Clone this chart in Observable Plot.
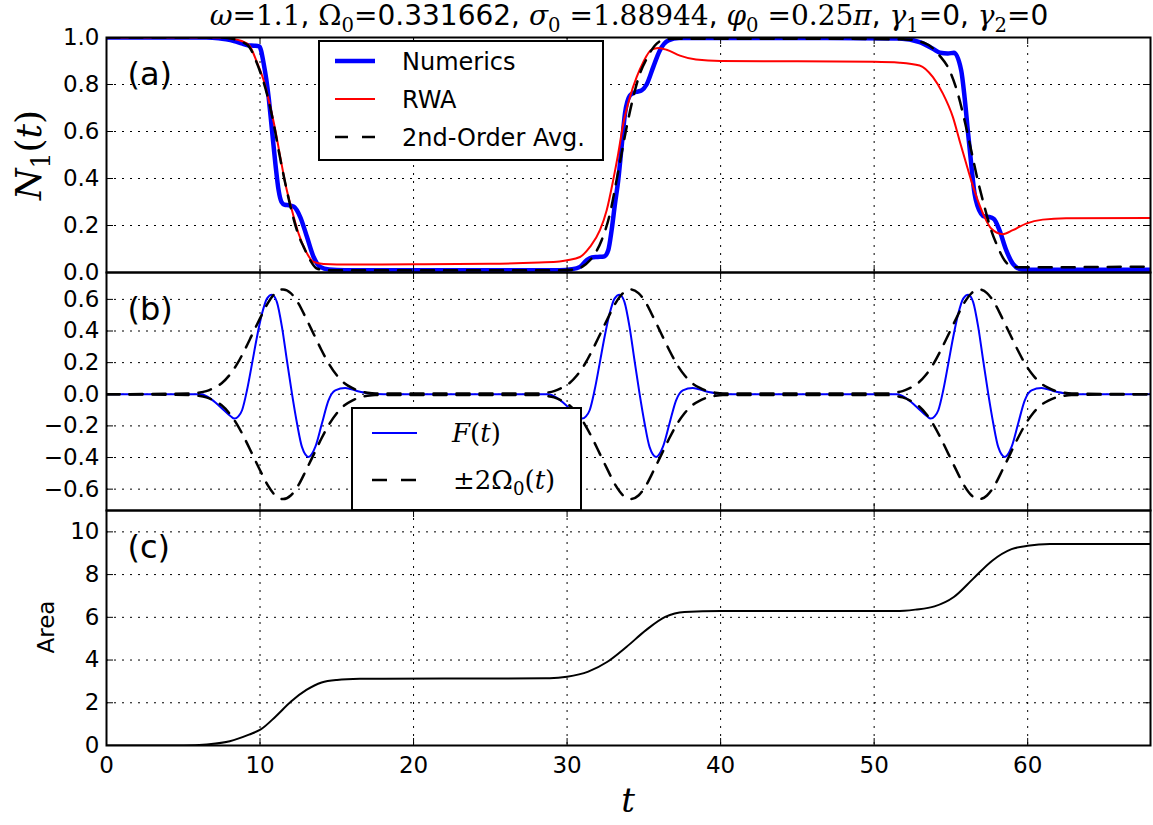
<!DOCTYPE html>
<html><head><meta charset="utf-8">
<script src="https://cdn.jsdelivr.net/npm/d3@7"></script>
<script src="https://cdn.jsdelivr.net/npm/@observablehq/plot@0.6"></script>
<style>
body{margin:0;background:#fff;}
#wrap{position:relative;width:1153px;height:825px;overflow:hidden;background:#fff;}
</style></head>
<body><div id="wrap"></div>
<script>
// ---------- data ----------
const xTicks = [0, 10, 20, 30, 40, 50, 60];
const xGrid = [10, 20, 30, 40, 50, 60];
const aTicks = [0, 0.2, 0.4, 0.6, 0.8, 1.0];
const aGrid = [0.2, 0.4, 0.6, 0.8];
const bTicks = [-0.6, -0.4, -0.2, 0, 0.2, 0.4, 0.6];
const cTicks = [0, 2, 4, 6, 8, 10];
const cGrid = [2, 4, 6, 8, 10];
const panelLabels = ["(a)", "(b)", "(c)"];
const legendA = ["Numerics", "RWA", "2nd-Order Avg."];

// panel (a): Numerics
const tN = [0, 6.5, 7.3, 7.8, 8.3, 8.8, 9.2, 9.6, 9.95, 10.24, 10.56, 10.78, 11.0, 11.21, 11.4, 11.6, 11.9, 12.2,
  12.62, 13.06, 13.49, 13.92, 14.5, 15.5, 22, 29.5, 30.3, 30.84, 31.27, 31.6, 32.0, 32.4, 32.68, 32.9, 33.12, 33.33,
  33.55, 33.77, 34.09, 34.35, 34.6, 34.85, 35.18, 35.61, 36.04, 36.59, 37.3, 38.5, 45, 51.66, 52.96, 53.83, 54.3, 54.8,
  55.2, 55.67, 55.89, 56.1, 56.32, 56.54, 56.97, 57.2, 57.5, 57.8, 58.16, 58.6, 59.03, 59.6, 60.3, 64, 68];
const N = [1.0, 1.0, 0.997, 0.992, 0.985, 0.975, 0.967, 0.965, 0.962, 0.888, 0.746, 0.605, 0.463, 0.35, 0.3, 0.288, 0.286, 0.28,
  0.236, 0.151, 0.066, 0.024, 0.013, 0.01, 0.01, 0.01, 0.014, 0.024, 0.052, 0.064, 0.066, 0.068, 0.095, 0.18, 0.293, 0.392,
  0.534, 0.676, 0.753, 0.765, 0.77, 0.775, 0.8, 0.874, 0.945, 0.987, 0.998, 0.998, 0.998, 0.996, 0.98, 0.952, 0.935, 0.932,
  0.935, 0.86, 0.746, 0.605, 0.463, 0.336, 0.25, 0.238, 0.236, 0.228, 0.18, 0.095, 0.038, 0.013, 0.012, 0.012, 0.012];

// panel (a): RWA
const tR = [0, 7.5, 8.28, 8.8, 9.3, 9.8, 10.24, 10.67, 11.0, 11.32, 11.65, 12.08, 12.51, 12.95, 13.49, 14.14, 15, 20, 25, 28.2,
  29.5, 30.0, 30.84, 31.49, 32.14, 32.58, 33.0, 33.33, 33.66, 34.09, 34.53, 34.96, 35.5, 35.94, 36.48, 37.35, 38.4, 40, 45, 50,
  51.66, 52.96, 53.83, 54.48, 55.13, 55.56, 56.0, 56.32, 56.75, 57.19, 57.62, 58.38, 59.03, 59.9, 60.98, 62.5, 68];
const R = [1.0, 1.0, 0.994, 0.985, 0.966, 0.895, 0.817, 0.704, 0.605, 0.491, 0.378, 0.265, 0.166, 0.095, 0.045, 0.036, 0.034, 0.035, 0.037, 0.043,
  0.047, 0.052, 0.066, 0.109, 0.18, 0.265, 0.392, 0.506, 0.633, 0.746, 0.831, 0.895, 0.948, 0.955, 0.948, 0.923, 0.906, 0.9, 0.899, 0.897,
  0.893, 0.881, 0.831, 0.761, 0.661, 0.562, 0.463, 0.392, 0.307, 0.236, 0.187, 0.163, 0.18, 0.208, 0.225, 0.231, 0.232];

// panel (a): 2nd-order average
const tD = [0, 7.5, 8.3, 8.8, 9.3, 9.8, 10.45, 10.89, 11.21, 11.65, 12.1, 12.5, 12.84, 13.27, 13.7, 14.3, 20, 29.5, 30.5, 31.0,
  31.49, 32.25, 32.79, 33.22, 33.55, 33.88, 34.31, 34.74, 35.18, 35.72, 36.26, 37, 45, 52, 53.4, 54.26, 54.91, 55.45, 55.89, 56.32,
  56.75, 57.19, 57.62, 58.05, 58.49, 59.03, 59.6, 68];
const D = [1.0, 1.0, 0.993, 0.982, 0.96, 0.89, 0.76, 0.633, 0.52, 0.378, 0.25, 0.16, 0.109, 0.052, 0.017, 0.01, 0.01, 0.01, 0.013, 0.025,
  0.052, 0.137, 0.25, 0.392, 0.506, 0.619, 0.746, 0.846, 0.909, 0.966, 0.99, 0.995, 0.995, 0.992, 0.973, 0.923, 0.86, 0.761, 0.647, 0.52,
  0.392, 0.279, 0.18, 0.109, 0.052, 0.024, 0.022, 0.025];

// panel (b): F(t)
const tF = [0,
  6.14, 6.77, 7.42, 8.07, 8.33, 8.59, 8.83, 9.15, 9.48, 9.80, 10.13, 10.45, 10.78, 11.10, 11.43, 11.75, 12.08, 12.41, 12.73, 13.16, 13.60, 14.03, 14.46, 14.90, 15.55, 16.31, 17.18, 18.04,
  28.78, 29.41, 30.06, 30.71, 30.97, 31.23, 31.47, 31.79, 32.12, 32.44, 32.77, 33.09, 33.42, 33.74, 34.07, 34.39, 34.72, 35.05, 35.37, 35.80, 36.24, 36.67, 37.10, 37.54, 38.19, 38.95, 39.82, 40.68,
  51.49, 52.12, 52.77, 53.42, 53.68, 53.94, 54.18, 54.50, 54.83, 55.15, 55.48, 55.80, 56.13, 56.45, 56.78, 57.10, 57.43, 57.76, 58.08, 58.51, 58.95, 59.38, 59.81, 60.25, 60.90, 61.66, 62.53, 63.39,
  68];
const F = [0,
  0, -0.027, -0.08, -0.137, -0.154, -0.14, -0.101, 0.025, 0.194, 0.362, 0.51, 0.605, 0.63, 0.583, 0.425, 0.215, 0.004, -0.185, -0.333, -0.396, -0.333, -0.185, -0.038, 0.025, 0.04, 0.021, 0.005, 0,
  0, -0.027, -0.08, -0.137, -0.154, -0.14, -0.101, 0.025, 0.194, 0.362, 0.51, 0.605, 0.63, 0.583, 0.425, 0.215, 0.004, -0.185, -0.333, -0.396, -0.333, -0.185, -0.038, 0.025, 0.04, 0.021, 0.005, 0,
  0, -0.027, -0.08, -0.137, -0.154, -0.14, -0.101, 0.025, 0.194, 0.362, 0.51, 0.605, 0.63, 0.583, 0.425, 0.215, 0.004, -0.185, -0.333, -0.396, -0.333, -0.185, -0.038, 0.025, 0.04, 0.021, 0.005, 0,
  0];

// panel (b): envelope 2*Omega0(t) (drawn as + and -)
const tE = [0,
  5.5, 6, 6.5, 7, 7.5, 8, 8.5, 9, 9.5, 10, 10.5, 11, 11.5, 12, 12.5, 13, 13.5, 14, 14.5, 15, 15.5, 16, 16.5, 17, 17.5,
  28.15, 28.65, 29.15, 29.65, 30.15, 30.65, 31.15, 31.65, 32.15, 32.65, 33.15, 33.65, 34.15, 34.65, 35.15, 35.65, 36.15, 36.65, 37.15, 37.65, 38.15, 38.65, 39.15, 39.65, 40.15,
  50.85, 51.35, 51.85, 52.35, 52.85, 53.35, 53.85, 54.35, 54.85, 55.35, 55.85, 56.35, 56.85, 57.35, 57.85, 58.35, 58.85, 59.35, 59.85, 60.35, 60.85, 61.35, 61.85, 62.35, 62.85,
  68];
const E = [0,
  0.005, 0.01, 0.02, 0.04, 0.07, 0.12, 0.19, 0.28, 0.38, 0.48, 0.575, 0.64, 0.663, 0.64, 0.575, 0.48, 0.38, 0.28, 0.19, 0.12, 0.07, 0.04, 0.02, 0.01, 0.005,
  0.005, 0.01, 0.02, 0.04, 0.07, 0.12, 0.19, 0.28, 0.38, 0.48, 0.575, 0.64, 0.663, 0.64, 0.575, 0.48, 0.38, 0.28, 0.19, 0.12, 0.07, 0.04, 0.02, 0.01, 0.005,
  0.005, 0.01, 0.02, 0.04, 0.07, 0.12, 0.19, 0.28, 0.38, 0.48, 0.575, 0.64, 0.663, 0.64, 0.575, 0.48, 0.38, 0.28, 0.19, 0.12, 0.07, 0.04, 0.02, 0.01, 0.005,
  0];

// panel (c): Area
const tA = [0, 5.04, 6.53, 8.03, 9.28, 10.02, 11.02, 12.02, 13.02, 14.01, 15.01, 16.51, 18, 26, 28.87, 30, 31.38, 32.63, 33.88, 35.14,
  36.39, 37.64, 40, 51.43, 52.68, 53.93, 55.19, 56.44, 57.69, 58.95, 60, 61.45, 64, 68];
const A = [0, 0, 0.05, 0.2, 0.51, 0.74, 1.36, 2.06, 2.6, 2.95, 3.07, 3.12, 3.13, 3.14, 3.15, 3.22, 3.46, 3.92, 4.62, 5.4,
  6.02, 6.25, 6.29, 6.29, 6.36, 6.51, 6.95, 7.8, 8.65, 9.19, 9.35, 9.43, 9.43, 9.43];

// ---------- build ----------
const rows = (ts, vs) => ts.map((t, i) => ({t, v: vs[i]}));
const rowsN = rows(tN, N), rowsR = rows(tR, R), rowsD = rows(tD, D);
const rowsF = rows(tF, F);
const rowsEp = rows(tE, E), rowsEm = rows(tE, E.map(v => -v));
const rowsA = rows(tA, A);

const W = 1153, ML = 106, MR = 3;
const SANS = "DejaVu Sans, sans-serif";
const SERIF = "DejaVu Serif, serif";
const FS = 23;
const dotted = {stroke: "#000", strokeWidth: 1, strokeDasharray: "2,6"};
const minus = s => s.replace("-", "\u2212");

function panel({top, height, mt, mb, ydomain, yTicks, yGrid, fmt, label, marks, xLabels}) {
  const fw = W - ML - MR, fh = height - mt - mb;
  const all = [
    Plot.ruleX(xGrid, {x: d => d, ...dotted}),
    Plot.ruleY(yGrid, {y: d => d, ...dotted}),
    ...marks,
    Plot.ruleX(xTicks, {x: d => d, stroke: "#000", strokeWidth: 1, insetTop: fh - 7}),
    Plot.ruleX(xTicks, {x: d => d, stroke: "#000", strokeWidth: 1, insetBottom: fh - 7}),
    Plot.ruleY(yTicks, {y: d => d, stroke: "#000", strokeWidth: 1, insetRight: fw - 7}),
    Plot.ruleY(yTicks, {y: d => d, stroke: "#000", strokeWidth: 1, insetLeft: fw - 7}),
    Plot.axisY({ticks: yTicks, tickSize: 0, tickPadding: 7, fontSize: FS, tickFormat: fmt, label: null}),
    xLabels ? Plot.axisX({ticks: xTicks, tickSize: 0, tickPadding: 11, fontSize: FS, tickFormat: d => String(d), label: null}) : null,
    Plot.text([label], {text: d => d, frameAnchor: "top-left", dx: 21, dy: 37, textAnchor: "start", lineAnchor: "middle", fontSize: 32}),
    Plot.frame({stroke: "#000", strokeWidth: 2})
  ].filter(Boolean);
  const svg = Plot.plot({
    width: W, height, marginLeft: ML, marginRight: MR, marginTop: mt, marginBottom: mb,
    style: {background: "transparent", overflow: "visible", fontFamily: SANS, color: "#000"},
    x: {domain: [0, 68], axis: null},
    y: {domain: ydomain, axis: null},
    marks: all
  });
  svg.style.position = "absolute";
  svg.style.left = "0px";
  svg.style.top = top + "px";
  return svg;
}

const wrap = document.getElementById("wrap");
const line = (data, o) => Plot.line(data, {x: "t", y: "v", curve: "monotone-x", clip: true, strokeLinejoin: "round", ...o});

wrap.appendChild(panel({
  top: 0, height: 274, mt: 37, mb: 2, ydomain: [0, 1], yTicks: aTicks, yGrid: aGrid,
  fmt: d => d.toFixed(1), label: panelLabels[0],
  marks: [
    line(rowsN, {stroke: "#0000ff", strokeWidth: 4.5}),
    line(rowsR, {stroke: "#ff0000", strokeWidth: 2}),
    line(rowsD, {stroke: "#000", strokeWidth: 2.5, strokeDasharray: "13,10"})
  ]
}));
wrap.appendChild(panel({
  top: 270, height: 242, mt: 2, mb: 2, ydomain: [-0.735, 0.77], yTicks: bTicks, yGrid: bTicks,
  fmt: d => minus(d.toFixed(1)), label: panelLabels[1],
  marks: [
    line(rowsF, {stroke: "#0000ff", strokeWidth: 2}),
    line(rowsEp, {stroke: "#000", strokeWidth: 2.5, strokeDasharray: "13,10"}),
    line(rowsEm, {stroke: "#000", strokeWidth: 2.5, strokeDasharray: "13,10"})
  ]
}));
wrap.appendChild(panel({
  top: 508, height: 317, mt: 2, mb: 80, ydomain: [0, 11], yTicks: cTicks, yGrid: cGrid,
  fmt: d => String(d), label: panelLabels[2], xLabels: true,
  marks: [
    line(rowsA, {stroke: "#000", strokeWidth: 2})
  ]
}));

// ---------- overlay: title, axis titles, legends ----------
const ov = d3.select(wrap).append("svg")
  .attr("width", W).attr("height", 825)
  .style("position", "absolute").style("left", "0px").style("top", "0px");

function rich(sel, parts) {
  for (const p of parts) {
    const ts = sel.append("tspan").text(p.s)
      .attr("font-family", p.f === "a" ? SANS : SERIF);
    if (p.i) ts.attr("font-style", "italic");
    if (p.sub) ts.attr("font-size", "0.7em").attr("dy", "0.35em");
    if (p.up) ts.attr("dy", "-0.245em");
  }
  return sel;
}

// title
rich(ov.append("text").attr("x", 629).attr("y", 25).attr("text-anchor", "middle").attr("font-size", 28).attr("fill", "#000"), [
  {s: "\u03c9", i: 1}, {s: "=1.1"}, {s: ", ", f: "a"},
  {s: "\u03a9"}, {s: "0", sub: 1}, {s: "=0.331662", f: "a", up: 1}, {s: ", ", f: "a"},
  {s: "\u03c3", i: 1}, {s: "0", sub: 1}, {s: " =1.88944", up: 1}, {s: ", ", f: "a"},
  {s: "\u03c6", i: 1}, {s: "0", sub: 1}, {s: " =0.25", up: 1}, {s: "\u03c0", i: 1}, {s: ", ", f: "a"},
  {s: "\u03b3", i: 1}, {s: "1", sub: 1}, {s: "=0", f: "a", up: 1}, {s: ", ", f: "a"},
  {s: "\u03b3", i: 1}, {s: "2", sub: 1}, {s: "=0", f: "a", up: 1}
]);

// y label panel a
rich(ov.append("text").attr("transform", "translate(41,155) rotate(-90)").attr("text-anchor", "middle").attr("font-size", 36).attr("fill", "#000"), [
  {s: "N", i: 1}, {s: "1", sub: 1}, {s: "(", up: 1}, {s: "t", i: 1}, {s: ")"}
]);
// y label panel c
ov.append("text").attr("transform", "translate(54,627) rotate(-90)").attr("text-anchor", "middle")
  .attr("font-size", FS).attr("font-family", SANS).attr("fill", "#000").text("Area");
// x label
ov.append("text").attr("x", 628).attr("y", 812).attr("text-anchor", "middle")
  .attr("font-size", 34).attr("font-family", SERIF).attr("font-style", "italic").attr("fill", "#000").text("t");

// legend (a)
const la = ov.append("g");
la.append("rect").attr("x", 319).attr("y", 41).attr("width", 284).attr("height", 119)
  .attr("fill", "#fff").attr("stroke", "#000").attr("stroke-width", 2);
const laY = [61, 99, 137];
const laStyle = [
  {stroke: "#0000ff", w: 4.5, dash: null},
  {stroke: "#ff0000", w: 2, dash: null},
  {stroke: "#000", w: 2.5, dash: "13,14"}
];
legendA.forEach((name, i) => {
  const l = la.append("line").attr("x1", 335).attr("x2", 375).attr("y1", laY[i]).attr("y2", laY[i])
    .attr("stroke", laStyle[i].stroke).attr("stroke-width", laStyle[i].w);
  if (laStyle[i].dash) l.attr("stroke-dasharray", laStyle[i].dash);
  la.append("text").attr("x", 402).attr("y", laY[i]).attr("dy", "0.36em")
    .attr("font-size", 24).attr("font-family", SANS).attr("fill", "#000").text(name);
});

// legend (b)
const lb = ov.append("g");
lb.append("rect").attr("x", 352).attr("y", 408).attr("width", 229).attr("height", 102)
  .attr("fill", "#fff").attr("stroke", "#000").attr("stroke-width", 2);
lb.append("line").attr("x1", 372).attr("x2", 417).attr("y1", 433).attr("y2", 433)
  .attr("stroke", "#0000ff").attr("stroke-width", 2);
lb.append("line").attr("x1", 372).attr("x2", 417).attr("y1", 480).attr("y2", 480)
  .attr("stroke", "#000").attr("stroke-width", 2.5).attr("stroke-dasharray", "15,14");
rich(lb.append("text").attr("x", 452).attr("y", 442).attr("font-size", 26).attr("fill", "#000"), [
  {s: "F", i: 1}, {s: "("}, {s: "t", i: 1}, {s: ")"}
]);
rich(lb.append("text").attr("x", 453).attr("y", 489).attr("font-size", 26).attr("fill", "#000"), [
  {s: "\u00b12\u03a9"}, {s: "0", sub: 1}, {s: "(", up: 1}, {s: "t", i: 1}, {s: ")"}
]);
</script>
</body></html>
